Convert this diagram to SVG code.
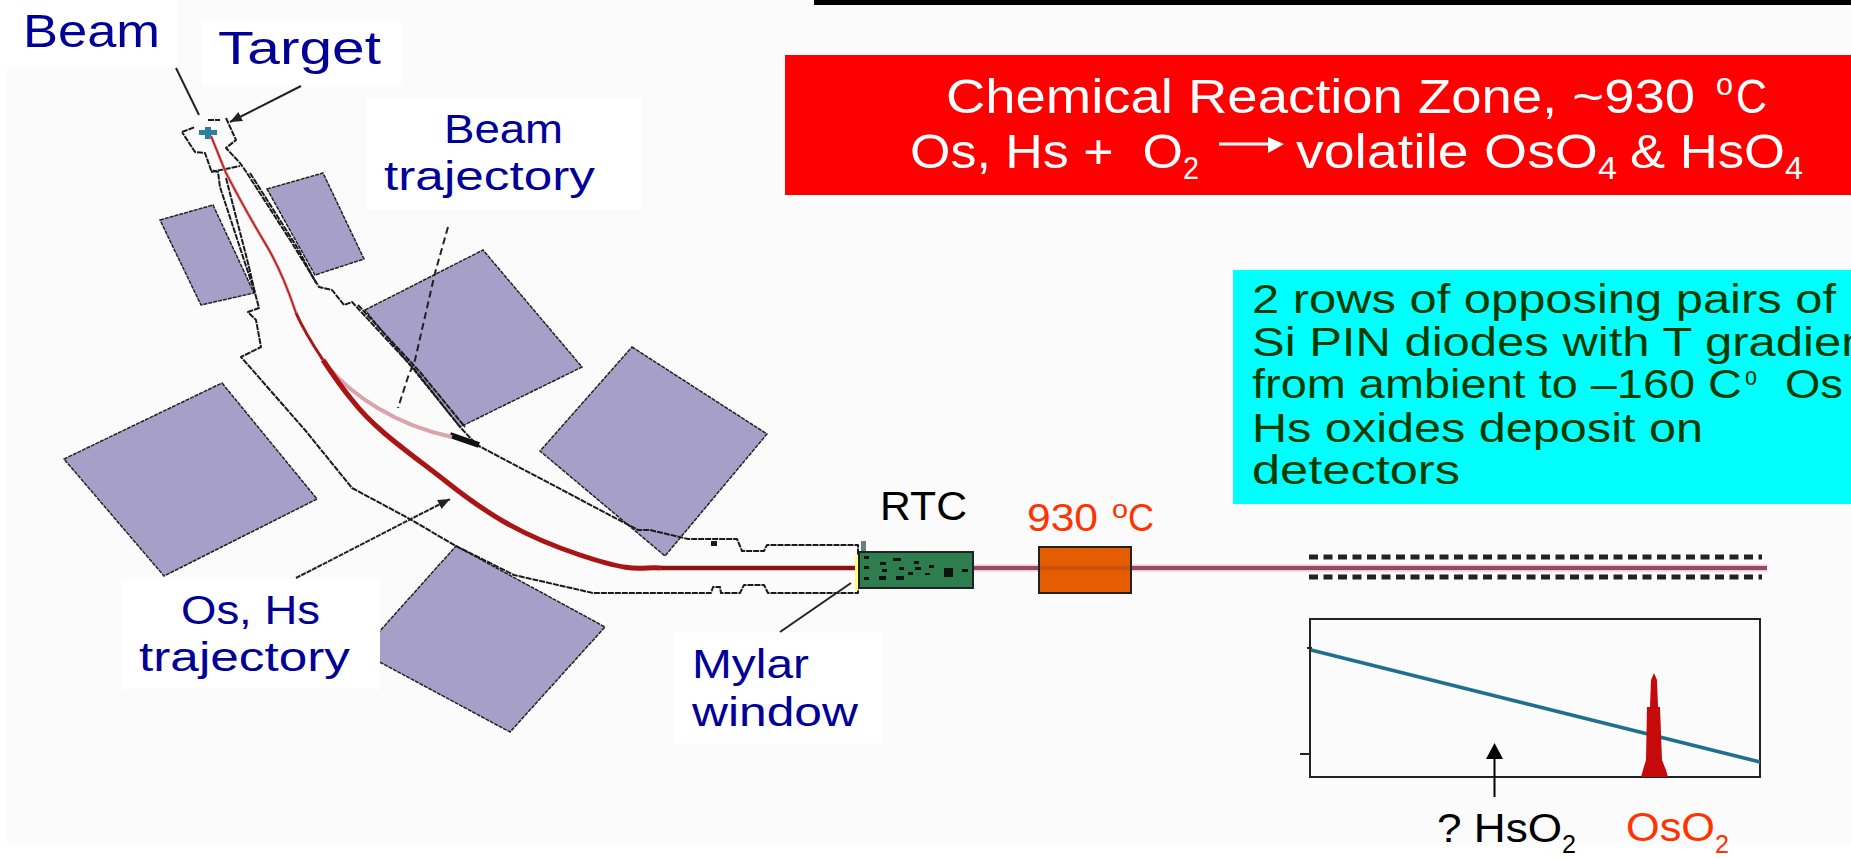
<svg xmlns="http://www.w3.org/2000/svg" width="1851" height="858" viewBox="0 0 1851 858">
<style>
text{font-family:"Liberation Sans",Arial,sans-serif}
.lab{fill:#000099;font-size:41px}
.org{fill:#ff3300}
.wht{fill:#fff;font-size:49px}
.wsub{fill:#fff;font-size:31px}
.grn{fill:#003c00;font-size:41px}
.mag{fill:#a6a0c8;stroke:#222;stroke-width:1.5;stroke-dasharray:4 1}
.wall{fill:none;stroke:#1a1a1a;stroke-width:2;stroke-linejoin:round}
.lead{fill:none;stroke:#222;stroke-width:2}
.box{fill:#fff}
</style>
<defs>
<marker id="ah" markerUnits="userSpaceOnUse" markerWidth="14" markerHeight="12" refX="12" refY="5" orient="auto"><path d="M0 0L12 5L0 10Z" fill="#222"/></marker>
</defs>
<rect x="7" y="0" width="1844" height="845" fill="#fbfbfb"/>
<rect id="top-bar" x="814" y="0" width="1037" height="5" fill="#000"/>

<g id="magnets">
<polygon class="mag" points="160,220 213,205 254,293 201,305"/>
<polygon class="mag" points="267,189 323,173 364,259 315,275"/>
<polygon class="mag" points="365,310 483,250 582,367 460,427"/>
<polygon class="mag" points="632,347 767,434 665,556 540,451"/>
<polygon class="mag" points="222,383 317,499 164,576 64,459"/>
<polygon class="mag" points="456,546 605,627 510,732 361,652"/>
</g>

<g id="beamline">
<path class="wall" stroke-dasharray="6 1" d="M182,132L195,127M208,120H220M226,118L236,140L226,148L240,163L245,170L292,243L319,287L332,290L344,305L352,302L415,370L460,427L477,445L638,530H650L688,539H737L742,551H764L767,545H858V593H768L764,585H744L740,593H721L720,587H713L711,593H650H593L514,575L456,546L408,518L352,488L305,430L241,357L261,347L256,320L248,312L259,308L255,293L245,263L220,187L218,172L211,170L205,153L195,152L182,132"/>
<path class="wall" stroke-dasharray="6 1" d="M211,172L240,166M226,178L249,267L255,293M250,173L297,247L316,283M358,305L420,372L465,427"/>
<rect x="711" y="541" width="6" height="5" fill="#1a1a1a"/>
<path d="M450,435L479,445" stroke="#111" stroke-width="6" fill="none"/>
<rect x="199" y="130" width="18" height="5" fill="#2a7f9f"/>
<rect x="205" y="127" width="6" height="12" fill="#2a7f9f"/>
</g>

<g id="trajectories">
<path d="M328,367C352,395 395,425 452,437" fill="none" stroke="#d9a4ae" stroke-width="4"/>
<path d="M211,136L226,173Q248,215 265,243T296,313" fill="none" stroke="#e88a8a" stroke-width="3"/>
<path d="M211,136L226,173Q248,215 265,243T296,313" fill="none" stroke="#b02020" stroke-width="1.5"/>
<path d="M296,313C304,331 313,345 323,360" fill="none" stroke="#aa1414" stroke-width="3"/>
<path d="M323,360C333,375 342,388 352,400C375,430 410,453 448,483S520,535 580,555S640,566 661,568" fill="none" stroke="#aa1414" stroke-width="5"/>
<path d="M661,568H855" fill="none" stroke="#8a1212" stroke-width="4.5"/>
<path d="M974,568H1767" fill="none" stroke="#f0c8d4" stroke-width="7"/>
<path d="M974,568H1767" fill="none" stroke="#94486a" stroke-width="4"/>
</g>

<g id="rtc">
<rect x="861" y="541" width="5" height="10" fill="#6a8080"/>
<rect x="855" y="555" width="3" height="35" fill="#ffff80"/>
<rect x="859" y="552" width="114" height="36" fill="#2e7d4f" stroke="#222" stroke-width="2"/>
<path fill="#111" d="M864,556h5v3h-5zM880,562h6v3h-6zM893,558h8v3h-8zM914,561h5v3h-5zM929,565h5v3h-5zM915,567h6v3h-6zM899,567h5v3h-5zM882,569h5v3h-5zM864,566h5v3h-5zM908,572h5v3h-5zM925,573h5v2h-5zM944,568h9v9h-9zM962,569h6v3h-6zM864,577h5v3h-5zM879,576h7v4h-7zM896,576h8v4h-8z"/>
<text x="880" y="520" textLength="87" lengthAdjust="spacingAndGlyphs" font-size="40" fill="#000">RTC</text>
</g>

<g id="furnace">
<rect x="1039" y="547" width="92" height="46" fill="#e65c00" stroke="#222" stroke-width="2"/>
<rect x="1040" y="566" width="90" height="4" fill="#c85010"/>
<text class="org" x="1027" y="531" textLength="71" lengthAdjust="spacingAndGlyphs" font-size="38">930</text>
<text class="org" x="1112" y="518" textLength="16" lengthAdjust="spacingAndGlyphs" font-size="25">o</text>
<text class="org" x="1128" y="531" textLength="26" lengthAdjust="spacingAndGlyphs" font-size="38">C</text>
</g>

<g id="detectors">
<path d="M1309,557H1762M1309,577H1762" stroke="#222" stroke-width="5" stroke-dasharray="9 5.5" fill="none"/>
</g>

<g id="plot">
<rect x="1310" y="619" width="450" height="158" fill="#fbfbfb" stroke="#222" stroke-width="2"/>
<path d="M1300,754H1310M1307,648H1312" stroke="#222" stroke-width="2"/>
<path d="M1311,650L1760,762" stroke="#1f6f8f" stroke-width="3.5" fill="none"/>
<polygon points="1651,680 1654,673 1657,680 1658,707 1660,707 1662,760 1666,770 1668,777 1641,777 1643,770 1646,760 1647,707 1650,707" fill="#c40a0a"/>
<path d="M1494.5,797V758" stroke="#000" stroke-width="2" fill="none"/>
<polygon points="1494.5,743 1503,759 1486,759" fill="#000"/>
<text x="1437" y="842" textLength="125" lengthAdjust="spacingAndGlyphs" font-size="40" fill="#000">? HsO</text>
<text x="1562" y="853" textLength="14" lengthAdjust="spacingAndGlyphs" font-size="26" fill="#000">2</text>
<text class="org" x="1626" y="841" textLength="89" lengthAdjust="spacingAndGlyphs" font-size="40">OsO</text>
<text class="org" x="1715" y="853" textLength="14" lengthAdjust="spacingAndGlyphs" font-size="26">2</text>
</g>

<g id="connectors">
<path class="lead" d="M176,68L199,115"/>
<path class="lead" d="M301,86L230,122" marker-end="url(#ah)"/>
<path class="lead" d="M448,227L435,273L415,360L408,377L398,408" stroke-dasharray="7 4"/>
<path class="lead" d="M296,578L450,499" marker-end="url(#ah)" stroke-dasharray="5 1"/>
<path class="lead" d="M780,632L851,583"/>
</g>

<g id="label-beam">
<rect class="box" x="0" y="0" width="178" height="67"/>
<text class="lab" x="23" y="47" textLength="137" lengthAdjust="spacingAndGlyphs" style="font-size:47px">Beam</text>
</g>
<g id="label-target">
<rect class="box" x="202" y="21" width="201" height="64"/>
<text class="lab" x="218" y="64" textLength="163" lengthAdjust="spacingAndGlyphs" style="font-size:46px">Target</text>
</g>
<g id="label-beam-trajectory">
<rect class="box" x="366" y="98" width="276" height="112"/>
<text class="lab" x="444" y="143" textLength="119" lengthAdjust="spacingAndGlyphs">Beam</text>
<text class="lab" x="384" y="190" textLength="211" lengthAdjust="spacingAndGlyphs">trajectory</text>
</g>
<g id="label-os-hs">
<rect class="box" x="121" y="579" width="259" height="110"/>
<text class="lab" x="181" y="624" textLength="139" lengthAdjust="spacingAndGlyphs">Os, Hs</text>
<text class="lab" x="139" y="671" textLength="211" lengthAdjust="spacingAndGlyphs">trajectory</text>
</g>
<g id="label-mylar">
<rect class="box" x="674" y="633" width="209" height="110"/>
<text class="lab" x="692" y="678" textLength="117" lengthAdjust="spacingAndGlyphs">Mylar</text>
<text class="lab" x="692" y="726" textLength="166" lengthAdjust="spacingAndGlyphs">window</text>
</g>

<g id="reaction-zone">
<rect x="785" y="55" width="1066" height="140" fill="#ff0000"/>
<text class="wht" x="946" y="113" textLength="749" lengthAdjust="spacingAndGlyphs">Chemical Reaction Zone, ~930</text>
<text class="wsub" x="1716" y="95" textLength="17" lengthAdjust="spacingAndGlyphs">o</text>
<text class="wht" x="1736" y="113" textLength="31" lengthAdjust="spacingAndGlyphs">C</text>
<text class="wht" x="910" y="168" textLength="273" lengthAdjust="spacingAndGlyphs" xml:space="preserve">Os, Hs +  O</text>
<text class="wsub" x="1183" y="179" textLength="16" lengthAdjust="spacingAndGlyphs">2</text>
<path d="M1219,144H1270" stroke="#fff" stroke-width="3"/>
<polygon points="1268,137 1284,144 1268,153" fill="#fff"/>
<text class="wht" x="1296" y="168" textLength="302" lengthAdjust="spacingAndGlyphs">volatile OsO</text>
<text class="wsub" x="1598" y="179" textLength="19" lengthAdjust="spacingAndGlyphs">4</text>
<text class="wht" x="1630" y="168" textLength="155" lengthAdjust="spacingAndGlyphs">&amp; HsO</text>
<text class="wsub" x="1785" y="179" textLength="18" lengthAdjust="spacingAndGlyphs">4</text>
</g>

<g id="detector-note">
<rect x="1233" y="270" width="618" height="234" fill="#00ffff"/>
<text class="grn" x="1252" y="313" textLength="584" lengthAdjust="spacingAndGlyphs">2 rows of opposing pairs of</text>
<text class="grn" x="1252" y="356" textLength="630" lengthAdjust="spacingAndGlyphs">Si PIN diodes with T gradient</text>
<text class="grn" x="1252" y="398" textLength="490" lengthAdjust="spacingAndGlyphs">from ambient to –160 C</text>
<text class="grn" x="1745" y="385" textLength="12" lengthAdjust="spacingAndGlyphs" style="font-size:25px">o</text>
<text class="grn" x="1785" y="398" textLength="58" lengthAdjust="spacingAndGlyphs">Os</text>
<text class="grn" x="1252" y="442" textLength="451" lengthAdjust="spacingAndGlyphs">Hs oxides deposit on</text>
<text class="grn" x="1252" y="484" textLength="208" lengthAdjust="spacingAndGlyphs">detectors</text>
</g>
</svg>
